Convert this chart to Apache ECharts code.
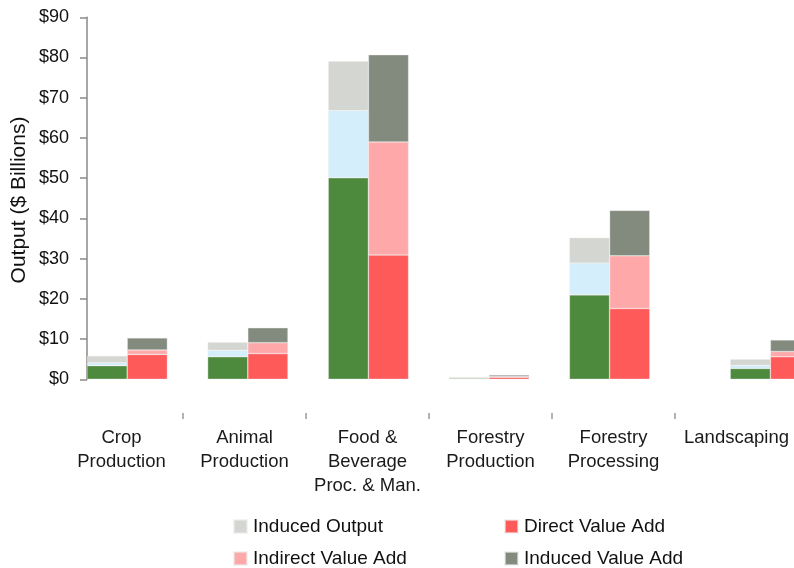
<!DOCTYPE html>
<html>
<head>
<meta charset="utf-8">
<script src="https://cdn.jsdelivr.net/npm/echarts@6/dist/echarts.min.js"></script>
<style>
html,body{margin:0;padding:0;background:#fff;}
#chart{width:794px;height:568px;}
</style>
</head>
<body>
<div id="chart"></div>
<script>
// ---- data ----
const categories = ['Crop\nProduction', 'Animal\nProduction', 'Food &\nBeverage\nProc. & Man.', 'Forestry\nProduction', 'Forestry\nProcessing', 'Landscaping'];
const directOutput     = [3.4, 5.6, 50.1, 0.3, 21.0, 2.7];
const indirectOutput   = [0.7, 1.6, 16.7, 0.1, 7.9, 0.8];
const inducedOutput    = [1.7, 2.0, 12.3, 0.2, 6.3, 1.5];
const directValueAdd   = [6.2, 6.4, 30.9, 0.5, 17.6, 5.6];
const indirectValueAdd = [1.1, 2.7, 28.1, 0.2, 13.1, 1.3];
const inducedValueAdd  = [3.0, 3.7, 21.7, 0.4, 11.3, 2.9];
const yTicks = [0, 10, 20, 30, 40, 50, 60, 70, 80, 90];

// ---- layout (bar slot positions on the hidden slot axis) ----
const slotStart = [0, 3, 6, 9, 12, 16];
const slotCount = 18;
const slots = Array.from({length: slotCount}, (_, i) => 's' + i);

function place(values, offset) {
  const arr = new Array(slotCount).fill(null);
  values.forEach((v, i) => { arr[slotStart[i] + offset] = v; });
  return arr;
}

const font = 'Liberation Sans, Arial, sans-serif';
const seriesDefs = [
  ['Direct Output', directOutput, 0, '#4E8A3E'],
  ['Indirect Output', indirectOutput, 0, '#D4EEFC'],
  ['Induced Output', inducedOutput, 0, '#D3D6D1'],
  ['Direct Value Add', directValueAdd, 1, '#FF5A5A'],
  ['Indirect Value Add', indirectValueAdd, 1, '#FFA8AA'],
  ['Induced Value Add', inducedValueAdd, 1, '#838B7F']
];

function leg(name, left, top) {
  return {orient: 'horizontal', left: left, top: top, padding: 0, icon: 'rect', itemWidth: 13, itemHeight: 13,
    data: [name], textStyle: {fontFamily: font, fontSize: 19, color: '#111', padding: [0, 0, 0, 1]}};
}

const chart = echarts.init(document.getElementById('chart'), null, {renderer: 'canvas'});
chart.setOption({
  animation: false,
  backgroundColor: '#fff',
  grid: [
    {left: 87, width: 723.6, top: 17.3, bottom: 188.7, outerBoundsMode: 'none', containLabel: false},
    {left: 60, width: 738, top: 17.3, bottom: 155, outerBoundsMode: 'none', containLabel: false}
  ],
  xAxis: [
    {type: 'category', gridIndex: 0, data: slots,
     axisLine: {show: false}, axisTick: {show: false}, axisLabel: {show: false}, splitLine: {show: false}},
    {type: 'category', gridIndex: 1, data: categories, position: 'bottom',
     axisLine: {show: false},
     axisTick: {show: true, length: 6, interval: (i) => i !== 0, lineStyle: {color: '#9a9a9a', width: 1.5}},
     axisLabel: {interval: 0, margin: 13, fontFamily: font, fontSize: 18.5, lineHeight: 24, color: '#1a1a1a'},
     splitLine: {show: false}}
  ],
  yAxis: [
    {type: 'value', gridIndex: 0, min: yTicks[0], max: yTicks[yTicks.length - 1], interval: 10,
     axisLine: {show: true, lineStyle: {color: '#8a8a8a', width: 1.5}},
     axisTick: {show: true, length: 7, lineStyle: {color: '#8a8a8a', width: 1.5}},
     axisLabel: {margin: 18, fontFamily: font, fontSize: 18, color: '#111', formatter: v => '$' + v},
     splitLine: {show: false}},
    {type: 'value', gridIndex: 1, show: false}
  ],
  legend: [
    leg('Induced Output', 233, 517),
    leg('Direct Value Add', 504, 517),
    leg('Indirect Value Add', 233, 549),
    leg('Induced Value Add', 504, 549)
  ],
  graphic: [
    {type: 'text', x: 19, y: 200, rotation: Math.PI / 2,
     style: {text: 'Output ($ Billions)', fontFamily: font, fontSize: 21, fill: '#111', align: 'center', verticalAlign: 'middle'}}
  ],
  series: seriesDefs.map(([name, vals, off, color]) => ({
    name: name, type: 'bar', stack: 'all', xAxisIndex: 0, yAxisIndex: 0,
    barCategoryGap: '0%', data: place(vals, off),
    itemStyle: {color: color, borderColor: 'rgba(235,235,235,0.6)', borderWidth: 0.6}
  }))
});
</script>
</body>
</html>
